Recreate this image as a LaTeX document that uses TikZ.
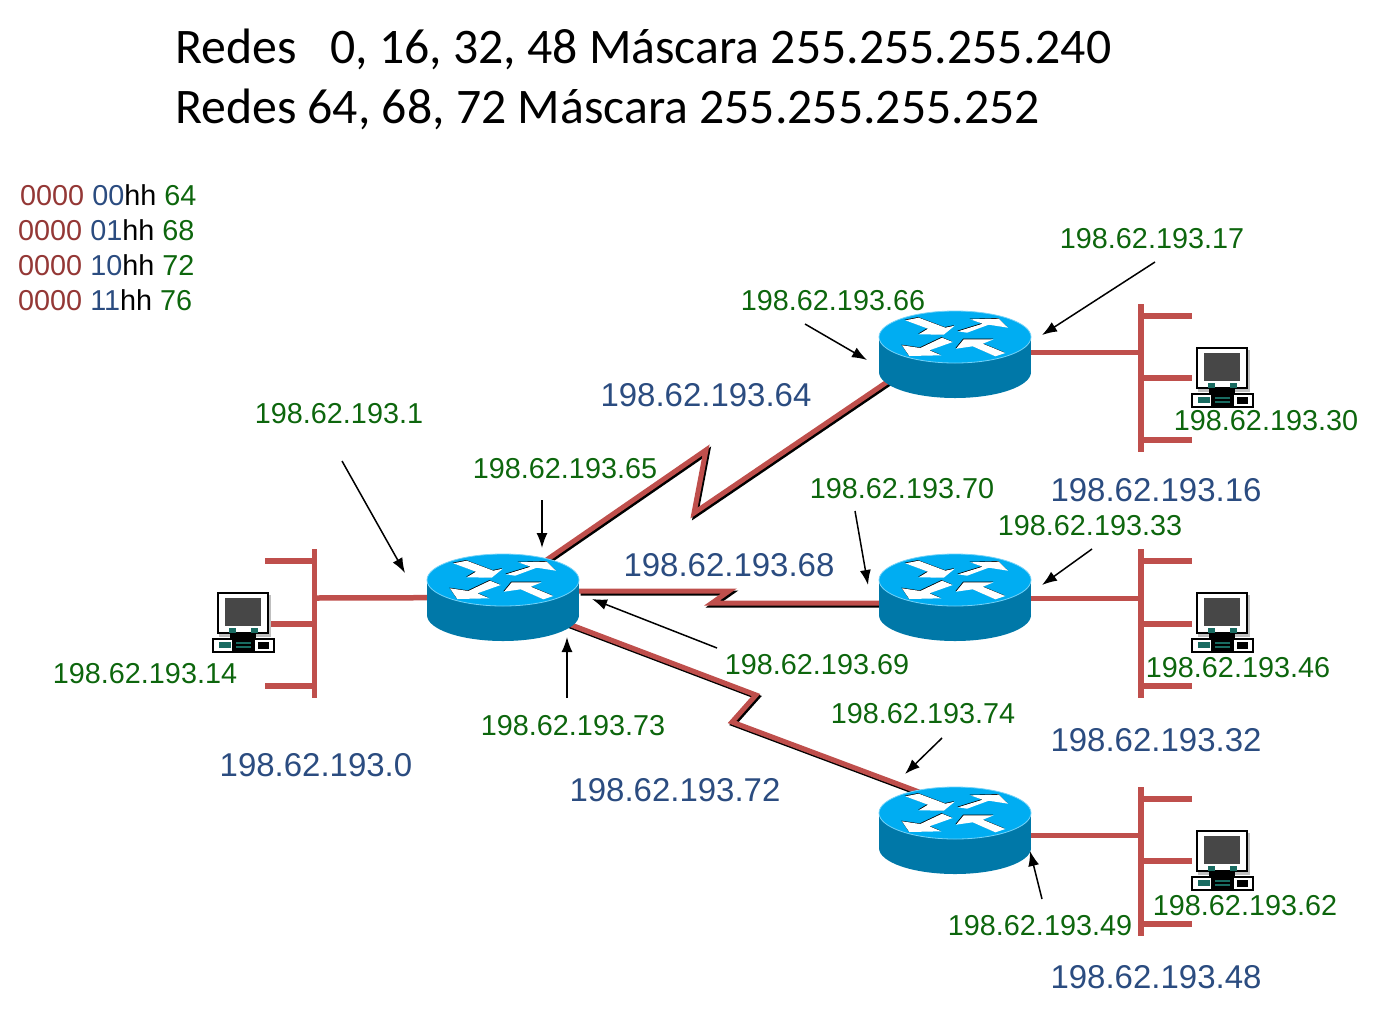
\documentclass[tikz,border=0pt]{standalone}
\usepackage{fontspec}
\setmainfont{Liberation Sans}
\newfontfamily\titlefont{Carlito}
\usetikzlibrary{arrows.meta,shapes.geometric}
\definecolor{linkcol}{rgb}{0.75,0.31,0.30}
\definecolor{addrcol}{rgb}{0.05,0.40,0.05}
\definecolor{netcol}{rgb}{0.17,0.30,0.50}
\definecolor{maskcol}{rgb}{0.58,0.22,0.21}
\definecolor{topcol}{rgb}{0.0,0.68,0.95}
\definecolor{sidecol}{rgb}{0.0,0.47,0.66}
\definecolor{pccol}{rgb}{0.10,0.42,0.38}
\newcommand{\routerarrows}{
  (-49.7,-16.7) -- (-36.3,-19.3) -- (-9.7,-9.3) -- (-0.3,-11.3) -- (-11.3,-2.3) -- (-36.3,-2.7) -- (-27,-8.3) -- cycle
  (3,-5.7) -- (27.7,-13.3) -- (15.3,-17.7) -- (43.7,-18.3) -- (53,-9.3) -- (33.7,-12.3) -- (12,-4.3) -- cycle
  (-53,8.3) -- (-34.7,11) -- (-13,0.7) -- (-2.3,5) -- (-25.7,13.3) -- (-13.7,18.3) -- (-45.7,19) -- cycle
  (1,11.7) -- (8.7,2.3) -- (38.7,2.3) -- (27.7,6.7) -- (50.3,16) -- (40.3,19.3) -- (17.7,9.3) -- cycle
}
\tikzset{
  routernode/.style={ellipse,inner sep=0pt,minimum width=152bp,minimum height=87bp},
  titletext/.style={anchor=base west,inner sep=0pt,font=\titlefont\fontsize{49.95pt}{56pt}\selectfont},
  addr/.style={inner sep=0pt,yshift=-0.6bp,text=addrcol,font=\fontsize{28.9pt}{34pt}\selectfont},
  net/.style={inner sep=0pt,yshift=-0.6bp,text=netcol,font=\fontsize{33.1pt}{38pt}\selectfont},
  masktext/.style={anchor=west,inner sep=0pt,font=\fontsize{28.9pt}{34pt}\selectfont},
  ethline/.style={draw=linkcol,line width=5.5bp},
  seriallink/.style={draw=linkcol,line width=5bp,line join=miter},
  serialshadow/.style={draw=black,line width=5bp,line join=miter,transform canvas={xshift=1.5bp,yshift=-2bp}},
  pointer/.style={draw=black,line width=1.5bp,-{Latex[length=15bp,width=11bp]}},
  routericon/.pic={
    \fill[sidecol] (-76,-17.5) rectangle (76,17.5);
    \fill[sidecol] (0,17.5) ellipse (76bp and 26bp);
    \filldraw[fill=topcol,draw=topcol!55!white,line width=0.8bp] (0,-17.5) ellipse (76bp and 26bp);
    \begin{scope}[yshift=17.5bp]
      \fill[black,xshift=-0.6bp,yshift=0.6bp] \routerarrows;
      \fill[white] \routerarrows;
    \end{scope}
  },
  pcicon/.pic={
    \fill[black!25] (-24,3) rectangle (28,45);
    \filldraw[fill=white,draw=black,line width=2.5bp] (-25,1) rectangle (25,41);
    \fill[black!72] (-18,6) rectangle (18,34);
    \fill[pccol] (-14,36) rectangle (-7,41);
    \fill[pccol] (8,36) rectangle (15,41);
    \fill[black] (-13,41) rectangle (13,47);
    \filldraw[fill=white,draw=black,line width=1.5bp] (-30,47) rectangle (31,60);
    \fill[pccol] (-24,50) rectangle (-12,56);
    \fill[black] (-11,47) rectangle (12,60);
    \fill[black] (15,50) rectangle (26,57);
    \fill[pccol] (-7,50) rectangle (8,52);
    \fill[pccol] (-7,54) rectangle (8,56);
  }
}
\begin{document}
\begin{tikzpicture}[x=1bp,y=-1bp]
  \useasboundingbox (0,0) rectangle (1376,1018);
  % Node: titles
  \node[titletext] (title1) at (175,63.5) {Redes\ \ \ 0, 16, 32, 48 Máscara 255.255.255.240};
  \node[titletext] (title2) at (175,123.5) {Redes 64, 68, 72 Máscara 255.255.255.252};
  % Node: host bits table
  \node[masktext] (mask1) at (20,195) {\textcolor{maskcol}{0000} \textcolor{netcol}{00}hh \textcolor{addrcol}{64}};
  \node[masktext] (mask2) at (18,230) {\textcolor{maskcol}{0000} \textcolor{netcol}{01}hh \textcolor{addrcol}{68}};
  \node[masktext] (mask3) at (18,265) {\textcolor{maskcol}{0000} \textcolor{netcol}{10}hh \textcolor{addrcol}{72}};
  \node[masktext] (mask4) at (18,300) {\textcolor{maskcol}{0000} \textcolor{netcol}{11}hh \textcolor{addrcol}{76}};
  % Node: routers
  \node[routernode] (r0) at (503,597.5) {};
  \node[routernode] (r1) at (955,354.5) {};
  \node[routernode] (r2) at (955,597.5) {};
  \node[routernode] (r3) at (955,830.5) {};
  % Edge: r0 -> r1
  \coordinate (k1a) at (706,450);
  \coordinate (k1b) at (694,513);
  \draw[serialshadow] (r0.41) -- (k1a) -- (k1b) -- (r1.201);
  \draw[seriallink] (r0.41) -- (k1a) -- (k1b) -- (r1.201);
  % Edge: r0 -> r2
  \coordinate (k2a) at (729,591);
  \coordinate (k2b) at (712,603);
  \draw[serialshadow] (r0.east |- k2a) -- (k2a) -- (k2b) -- (r2.west |- k2b);
  \draw[seriallink] (r0.east |- k2a) -- (k2a) -- (k2b) -- (r2.west |- k2b);
  % Edge: r0 -> r3
  \coordinate (k3a) at (756,695);
  \coordinate (k3b) at (732,722);
  \draw[serialshadow] (r0.-22) -- (k3a) -- (k3b) -- (r3.133);
  \draw[seriallink] (r0.-22) -- (k3a) -- (k3b) -- (r3.133);
  % Edge: buses
  \coordinate (bus0) at (315,598);
  \coordinate (bus1) at (1141,352.5);
  \coordinate (bus2) at (1141,598.5);
  \coordinate (bus3) at (1141,835.5);
  \draw[ethline] (bus0) -- (r0);
  \draw[ethline] (bus1) -- (bus1 -| r1.east);
  \draw[ethline] (bus2) -- (bus2 -| r2.east);
  \draw[ethline] (bus3) -- (bus3 -| r3.east);
  \draw[ethline] (314.5,549) -- (314.5,698) (265,561) -- (315,561) (265,624) -- (315,624) (265,686) -- (315,686);
  \draw[ethline] (1141,304) -- (1141,452) (1141,316) -- (1192,316) (1141,378) -- (1192,378) (1141,440) -- (1192,440);
  \draw[ethline] (1141,549) -- (1141,698) (1141,561) -- (1192,561) (1141,624) -- (1192,624) (1141,686) -- (1192,686);
  \draw[ethline] (1141,787) -- (1141,936) (1141,799) -- (1192,799) (1141,861) -- (1192,861) (1141,924) -- (1192,924);
  % Node: router and host icons
  \pic (ic0) at (r0) {routericon};
  \pic (ic1) at (r1) {routericon};
  \pic (ic2) at (r2) {routericon};
  \pic (ic3) at (r3) {routericon};
  \pic (pc0) at (243,592) {pcicon};
  \pic (pc1) at (1222,347) {pcicon};
  \pic (pc2) at (1222,592) {pcicon};
  \pic (pc3) at (1222,830) {pcicon};
  % Node: interface addresses
  \node[addr] (a17) at (1152,238) {198.62.193.17};
  \node[addr] (a66) at (833,300) {198.62.193.66};
  \node[addr] (a30) at (1266,420) {198.62.193.30};
  \node[addr] (a1) at (339,413) {198.62.193.1};
  \node[addr] (a65) at (565,468) {198.62.193.65};
  \node[addr] (a70) at (902,488) {198.62.193.70};
  \node[addr] (a33) at (1090,525) {198.62.193.33};
  \node[addr] (a14) at (145,673) {198.62.193.14};
  \node[addr] (a69) at (817,664) {198.62.193.69};
  \node[addr] (a46) at (1238,667) {198.62.193.46};
  \node[addr] (a73) at (573,725) {198.62.193.73};
  \node[addr] (a74) at (923,713) {198.62.193.74};
  \node[addr] (a49) at (1040,925) {198.62.193.49};
  \node[addr] (a62) at (1245,905) {198.62.193.62};
  % Node: network addresses
  \node[net] (n64) at (706,395) {198.62.193.64};
  \node[net] (n16) at (1156,490) {198.62.193.16};
  \node[net] (n68) at (729,565) {198.62.193.68};
  \node[net] (n32) at (1156,740) {198.62.193.32};
  \node[net] (n0) at (316,765) {198.62.193.0};
  \node[net] (n72) at (675,790) {198.62.193.72};
  \node[net] (n48) at (1156,977) {198.62.193.48};
  % Edge: address pointers
  \coordinate (p17a) at (1155,262);  \coordinate (p17b) at (1042,335);
  \coordinate (p66a) at (805,324);   \coordinate (p66b) at (867,360);
  \coordinate (p65a) at (542,500);   \coordinate (p65b) at (542,548);
  \coordinate (p1a) at (342,461);    \coordinate (p1b) at (405,573);
  \coordinate (p70a) at (855,511);   \coordinate (p70b) at (868,585);
  \coordinate (p33a) at (1092,549);  \coordinate (p33b) at (1042,585);
  \coordinate (p69a) at (717,648);   \coordinate (p69b) at (592,599);
  \coordinate (p73a) at (567,698);   \coordinate (p73b) at (567,637);
  \coordinate (p74a) at (942,738);   \coordinate (p74b) at (905,774);
  \coordinate (p49a) at (1042,899);  \coordinate (p49b) at (1030,851);
  \draw[pointer] (p17a) -- (p17b);
  \draw[pointer] (p66a) -- (p66b);
  \draw[pointer] (p65a) -- (p65b);
  \draw[pointer] (p1a) -- (p1b);
  \draw[pointer] (p70a) -- (p70b);
  \draw[pointer] (p33a) -- (p33b);
  \draw[pointer] (p69a) -- (p69b);
  \draw[pointer] (p73a) -- (p73b);
  \draw[pointer] (p74a) -- (p74b);
  \draw[pointer] (p49a) -- (p49b);
\end{tikzpicture}
\end{document}
